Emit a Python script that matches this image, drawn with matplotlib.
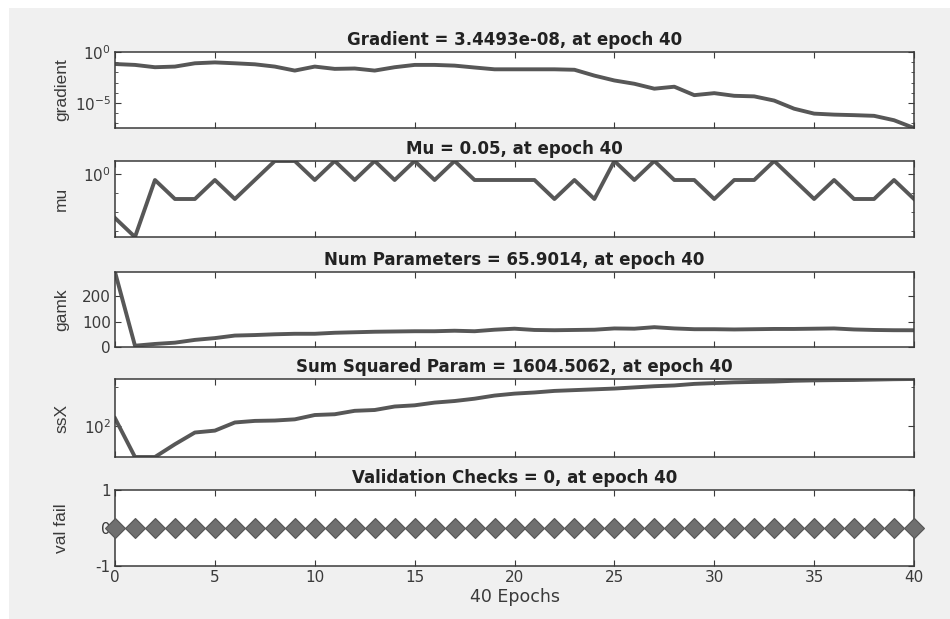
import numpy as np
import matplotlib
matplotlib.use("Agg")
import matplotlib.pyplot as plt
from matplotlib.patches import Rectangle
from matplotlib.ticker import FixedLocator, NullFormatter

plt.rcParams['font.family'] = ['DejaVu Sans']
plt.rcParams['axes.unicode_minus'] = False

epochs = list(range(41))

gradient = [0.066, 0.054, 0.032, 0.037, 0.078, 0.095, 0.078, 0.062, 0.037, 0.015,
            0.037, 0.022, 0.024, 0.015, 0.032, 0.054, 0.054, 0.046, 0.030, 0.020,
            0.020, 0.020, 0.020, 0.018, 4.8e-3, 1.6e-3, 7.6e-4, 2.5e-4, 3.9e-4, 5.8e-5,
            9.1e-5, 5.0e-5, 4.4e-5, 1.7e-5, 2.7e-6, 8.9e-7, 7.1e-7, 6.3e-7, 5.4e-7, 2.0e-7,
            3.4493e-8]

mu = [0.005, 0.0005, 0.5, 0.05, 0.05, 0.5, 0.05, 0.5, 5, 5,
      0.5, 5, 0.5, 5, 0.5, 5, 0.5, 5, 0.5, 0.5,
      0.5, 0.5, 0.05, 0.5, 0.05, 5, 0.5, 5, 0.5, 0.5,
      0.05, 0.5, 0.5, 5, 0.5, 0.05, 0.5, 0.05, 0.05, 0.5,
      0.05]

gamk = [295, 5, 12, 17, 28, 35, 45, 47, 50, 52,
        52, 56, 58, 60, 61, 62, 62, 64, 62, 68,
        72, 67, 66, 67, 68, 73, 72, 78, 73, 70,
        70, 69, 70, 71, 71, 72, 73, 69, 67, 66,
        65.9014]

ssx = [158, 16, 16, 34, 68, 76, 123, 135, 138, 148,
       191, 200, 245, 257, 316, 339, 398, 437, 501, 603,
       676, 724, 794, 832, 871, 912, 977, 1047, 1096, 1202,
       1259, 1318, 1349, 1380, 1445, 1479, 1500, 1514, 1549, 1585,
       1604.5062]

val_fail = [0] * 41

titles = ["Gradient = 3.4493e-08, at epoch 40",
          "Mu = 0.05, at epoch 40",
          "Num Parameters = 65.9014, at epoch 40",
          "Sum Squared Param = 1604.5062, at epoch 40",
          "Validation Checks = 0, at epoch 40"]
ylabels = ["gradient", "mu", "gamk", "ssX", "val fail"]

W, H = 950, 619
fig = plt.figure(figsize=(W / 100, H / 100), dpi=100, facecolor='white')
fig.patches.append(Rectangle((9 / W, 0), 1, 1 - 8 / H, transform=fig.transFigure,
                             facecolor='#f0f0f0', edgecolor='none', zorder=-10))

# axes boxes in pixels (top, bottom)
boxes = [(52, 128), (161, 237), (272, 347), (379, 457), (490, 566)]
left, right = 115, 914

line_col = '#575757'
edge_col = '#3a3a3a'
txt_col = '#3a3a3a'

axes = []
for (top, bot) in boxes:
    ax = fig.add_axes([left / W, 1 - bot / H, (right - left) / W, (bot - top) / H])
    ax.set_facecolor('white')
    for s in ax.spines.values():
        s.set_color(edge_col)
        s.set_linewidth(1.1)
    ax.set_xlim(0, 40)
    ax.set_xticks(range(0, 41, 5))
    ax.tick_params(which='both', direction='in', top=True, right=True,
                   colors=edge_col, labelcolor=txt_col, labelsize=11, pad=3)
    ax.tick_params(which='major', length=4)
    ax.tick_params(which='minor', length=2.5)
    axes.append(ax)

ax1, ax2, ax3, ax4, ax5 = axes

ax1.semilogy(epochs, gradient, color=line_col, lw=2.8)
ax1.set_ylim(3.4493e-8, 1)
ax1.yaxis.set_major_locator(FixedLocator([1, 1e-5]))
ax1.yaxis.set_minor_locator(FixedLocator([10.0 ** k for k in range(-8, 0)]))
ax1.yaxis.set_minor_formatter(NullFormatter())

ax2.semilogy(epochs, mu, color=line_col, lw=2.8)
ax2.set_ylim(min(mu), max(mu))
ax2.yaxis.set_major_locator(FixedLocator([1]))
ax2.yaxis.set_minor_locator(FixedLocator([1e-3, 1e-2, 1e-1]))
ax2.yaxis.set_minor_formatter(NullFormatter())

ax3.plot(epochs, gamk, color=line_col, lw=2.8)
ax3.set_ylim(0, max(gamk))
ax3.set_yticks([0, 100, 200])

ax4.semilogy(epochs, ssx, color=line_col, lw=2.8)
ax4.set_ylim(min(ssx), max(ssx))
ax4.yaxis.set_major_locator(FixedLocator([100]))
ax4.yaxis.set_minor_locator(FixedLocator([1000]))
ax4.yaxis.set_minor_formatter(NullFormatter())

ax5.plot(epochs, val_fail, linestyle='none', marker='D', markersize=10,
         markerfacecolor='#6f6f6f', markeredgecolor='#555555', markeredgewidth=0.8,
         clip_on=False, zorder=3)
ax5.set_ylim(-1, 1)
ax5.set_yticks([-1, 0, 1])

for ax, t, yl in zip(axes, titles, ylabels):
    ax.set_title(t, fontsize=12, fontweight='bold', color='#222222', pad=5)
    ax.set_ylabel(yl, fontsize=12.5, color=txt_col, family=['Liberation Sans'])
    if ax is not ax5:
        ax.set_xticklabels([])

ax5.set_xlabel("40 Epochs", fontsize=12.5, color=txt_col, labelpad=2)

# all y labels at the same x position
for ax in axes:
    ax.yaxis.set_label_coords(-(left - 69) / (right - left), 0.5)

fig.savefig("out.png", dpi=100, facecolor=fig.get_facecolor())
